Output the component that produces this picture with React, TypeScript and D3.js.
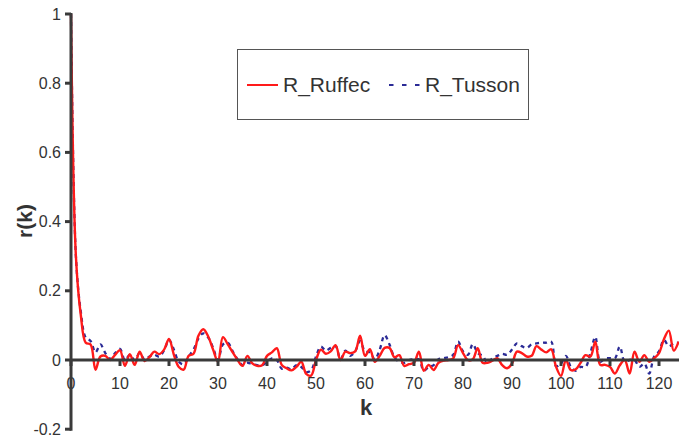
import React from "react";
import * as d3 from "d3";

const ruffec: number[] = [
  1, 0.3, 0.13, 0.05, 0.045, -0.028, 0.01, 0.012, 0.0, 0.015,
  0.028, -0.017, 0.017, -0.014, 0.024, -0.003, 0.008, 0.024, 0.017, 0.03,
  0.061, 0.015, -0.02, -0.028, 0.012, 0.018, 0.07, 0.089, 0.068, 0.03,
  -0.005, 0.066, 0.045, 0.022, 0.0, -0.017, 0.012, -0.01, -0.017, -0.015,
  0.012, 0.022, 0.034, -0.014, -0.024, -0.03, -0.02, -0.005, -0.04, -0.045,
  0.0, 0.03, 0.018, 0.025, 0.043, 0.0, 0.024, 0.02, 0.025, 0.07,
  0.012, 0.031, -0.005, 0.012, 0.035, 0.035, 0.008, 0.014, -0.017, -0.012,
  -0.008, 0.024, -0.031, -0.014, -0.029, -0.008, -0.002, 0.0, 0.005, 0.043,
  0.02, 0.0, 0.002, 0.034, -0.008, -0.008, -0.002, 0.005, -0.015, -0.024,
  -0.01, 0.024, 0.02, 0.01, 0.012, 0.04, 0.03, 0.022, 0.031, -0.02,
  -0.046, 0.0, -0.029, -0.027, -0.008, 0.014, 0.01, 0.053, -0.014, -0.014,
  -0.02, -0.039, -0.015, 0.0, -0.039, 0.024, -0.005, 0.014, -0.005, 0.005,
  0.02, 0.06, 0.085, 0.027, 0.053,
];

const tusson: number[] = [
  1, 0.3, 0.14, 0.065, 0.055, 0.022, 0.045, 0.02, 0.003, 0.02,
  0.032, 0.0, 0.015, 0.0, 0.02, 0.002, 0.01, 0.015, 0.01, 0.028,
  0.058, 0.03, -0.005, -0.012, 0.01, 0.03, 0.062, 0.077, 0.065, 0.035,
  0.0, 0.045, 0.05, 0.025, 0.002, -0.015, -0.008, -0.012, -0.015, -0.015,
  -0.005, 0.005, 0.0, -0.025, -0.022, -0.027, -0.015, -0.02, -0.035, -0.03,
  0.01, 0.039, 0.027, 0.035, 0.04, 0.002, 0.027, 0.012, 0.025, 0.055,
  0.025, 0.022, 0.002, 0.03, 0.072, 0.045, 0.008, -0.005, -0.008, 0.0,
  0.002, 0.002, -0.031, -0.02, -0.015, 0.002, 0.005, 0.008, 0.015, 0.053,
  0.025, 0.015, 0.046, 0.02, 0.012, -0.008, 0.005, 0.012, 0.018, 0.015,
  0.03, 0.048, 0.04, 0.035, 0.045, 0.048, 0.05, 0.05, 0.053, -0.018,
  -0.01, 0.012, -0.02, -0.031, -0.02, -0.02, 0.02, 0.067, -0.005, 0.005,
  0.005, 0.005, 0.039, -0.005, 0.0, 0.0, -0.02, -0.01, -0.039, 0.01,
  0.025, 0.058, 0.04, 0.048, 0.05,
];

const xTicks: number[] = [0, 10, 20, 30, 40, 50, 60, 70, 80, 90, 100, 110, 120];
const yTicks: number[] = [-0.2, 0, 0.2, 0.4, 0.6, 0.8, 1];
const yTickLabels: string[] = ["-0.2", "0", "0.2", "0.4", "0.6", "0.8", "1"];
const seriesNames: string[] = ["R_Ruffec", "R_Tusson"];

const W = 679;
const H = 439;
const FONT = "'Liberation Sans', Arial, Helvetica, sans-serif";
const AXIS = "#3a3a3a";
const TEXT = "#333333";
const RED = "#ff1a1a";
const BLUE = "#2b2b96";

export default function App() {
  const x = d3.scaleLinear().domain([0, 124.08]).range([71, 679]);
  const y = d3.scaleLinear().domain([-0.2, 1]).range([429.2, 14]);

  const line = d3
    .line<number>()
    .x((_, i) => x(i))
    .y((d) => y(d))
    .curve(d3.curveCatmullRom.alpha(0.5));

  return (
    <div style={{ position: "fixed", left: 0, top: 0, width: W, height: H, background: "#fff" }}>
      <svg width={W} height={H} style={{ display: "block", fontFamily: FONT }}>
        <rect x={0} y={0} width={W} height={H} fill="#fff" />
        {/* data lines */}
        <path d={line(tusson) || ""} fill="none" stroke={BLUE} strokeWidth={2.3} strokeDasharray="4,4" />
        <path d={line(ruffec) || ""} fill="none" stroke={RED} strokeWidth={2.4} />

        {/* x axis */}
        <line x1={x(0)} x2={W} y1={y(0)} y2={y(0)} stroke={AXIS} strokeWidth={3} />
        {xTicks.map((t) => (
          <g key={"xt" + t}>
            <line x1={x(t)} x2={x(t)} y1={y(0)} y2={y(0) + 6} stroke={AXIS} strokeWidth={3} />
            <text x={x(t)} y={389} textAnchor="middle" fontSize={16} fill={TEXT}>
              {t}
            </text>
          </g>
        ))}

        {/* y axis */}
        <line x1={x(0)} x2={x(0)} y1={y(1) - 1} y2={y(-0.2) + 1.5} stroke={AXIS} strokeWidth={3} />
        {yTicks.map((t, i) => (
          <g key={"yt" + t}>
            <line x1={x(0) - 6} x2={x(0)} y1={y(t)} y2={y(t)} stroke={AXIS} strokeWidth={3} />
            <text x={61} y={y(t) + 5.5} textAnchor="end" fontSize={16} fill={TEXT}>
              {yTickLabels[i]}
            </text>
          </g>
        ))}

        {/* axis titles */}
        <text
          transform={`translate(32,221) rotate(-90)`}
          textAnchor="middle"
          fontSize={21}
          fontWeight="bold"
          fill={TEXT}
        >
          r(k)
        </text>
        <text x={366} y={415} textAnchor="middle" fontSize={22} fontWeight="bold" fill={TEXT}>
          k
        </text>

        {/* legend */}
        <rect x={237.5} y={49.5} width={291} height={70} fill="#fff" stroke="#555" strokeWidth={1} />
        <line x1={247} x2={278} y1={85} y2={85} stroke={RED} strokeWidth={2} />
        <text x={283} y={92} fontSize={21} fill={TEXT}>
          {seriesNames[0]}
        </text>
        <line x1={389} x2={420} y1={85} y2={85} stroke={BLUE} strokeWidth={2.2} strokeDasharray="4.5,8.5" />
        <text x={425} y={92} fontSize={21} fill={TEXT}>
          {seriesNames[1]}
        </text>
      </svg>
    </div>
  );
}
